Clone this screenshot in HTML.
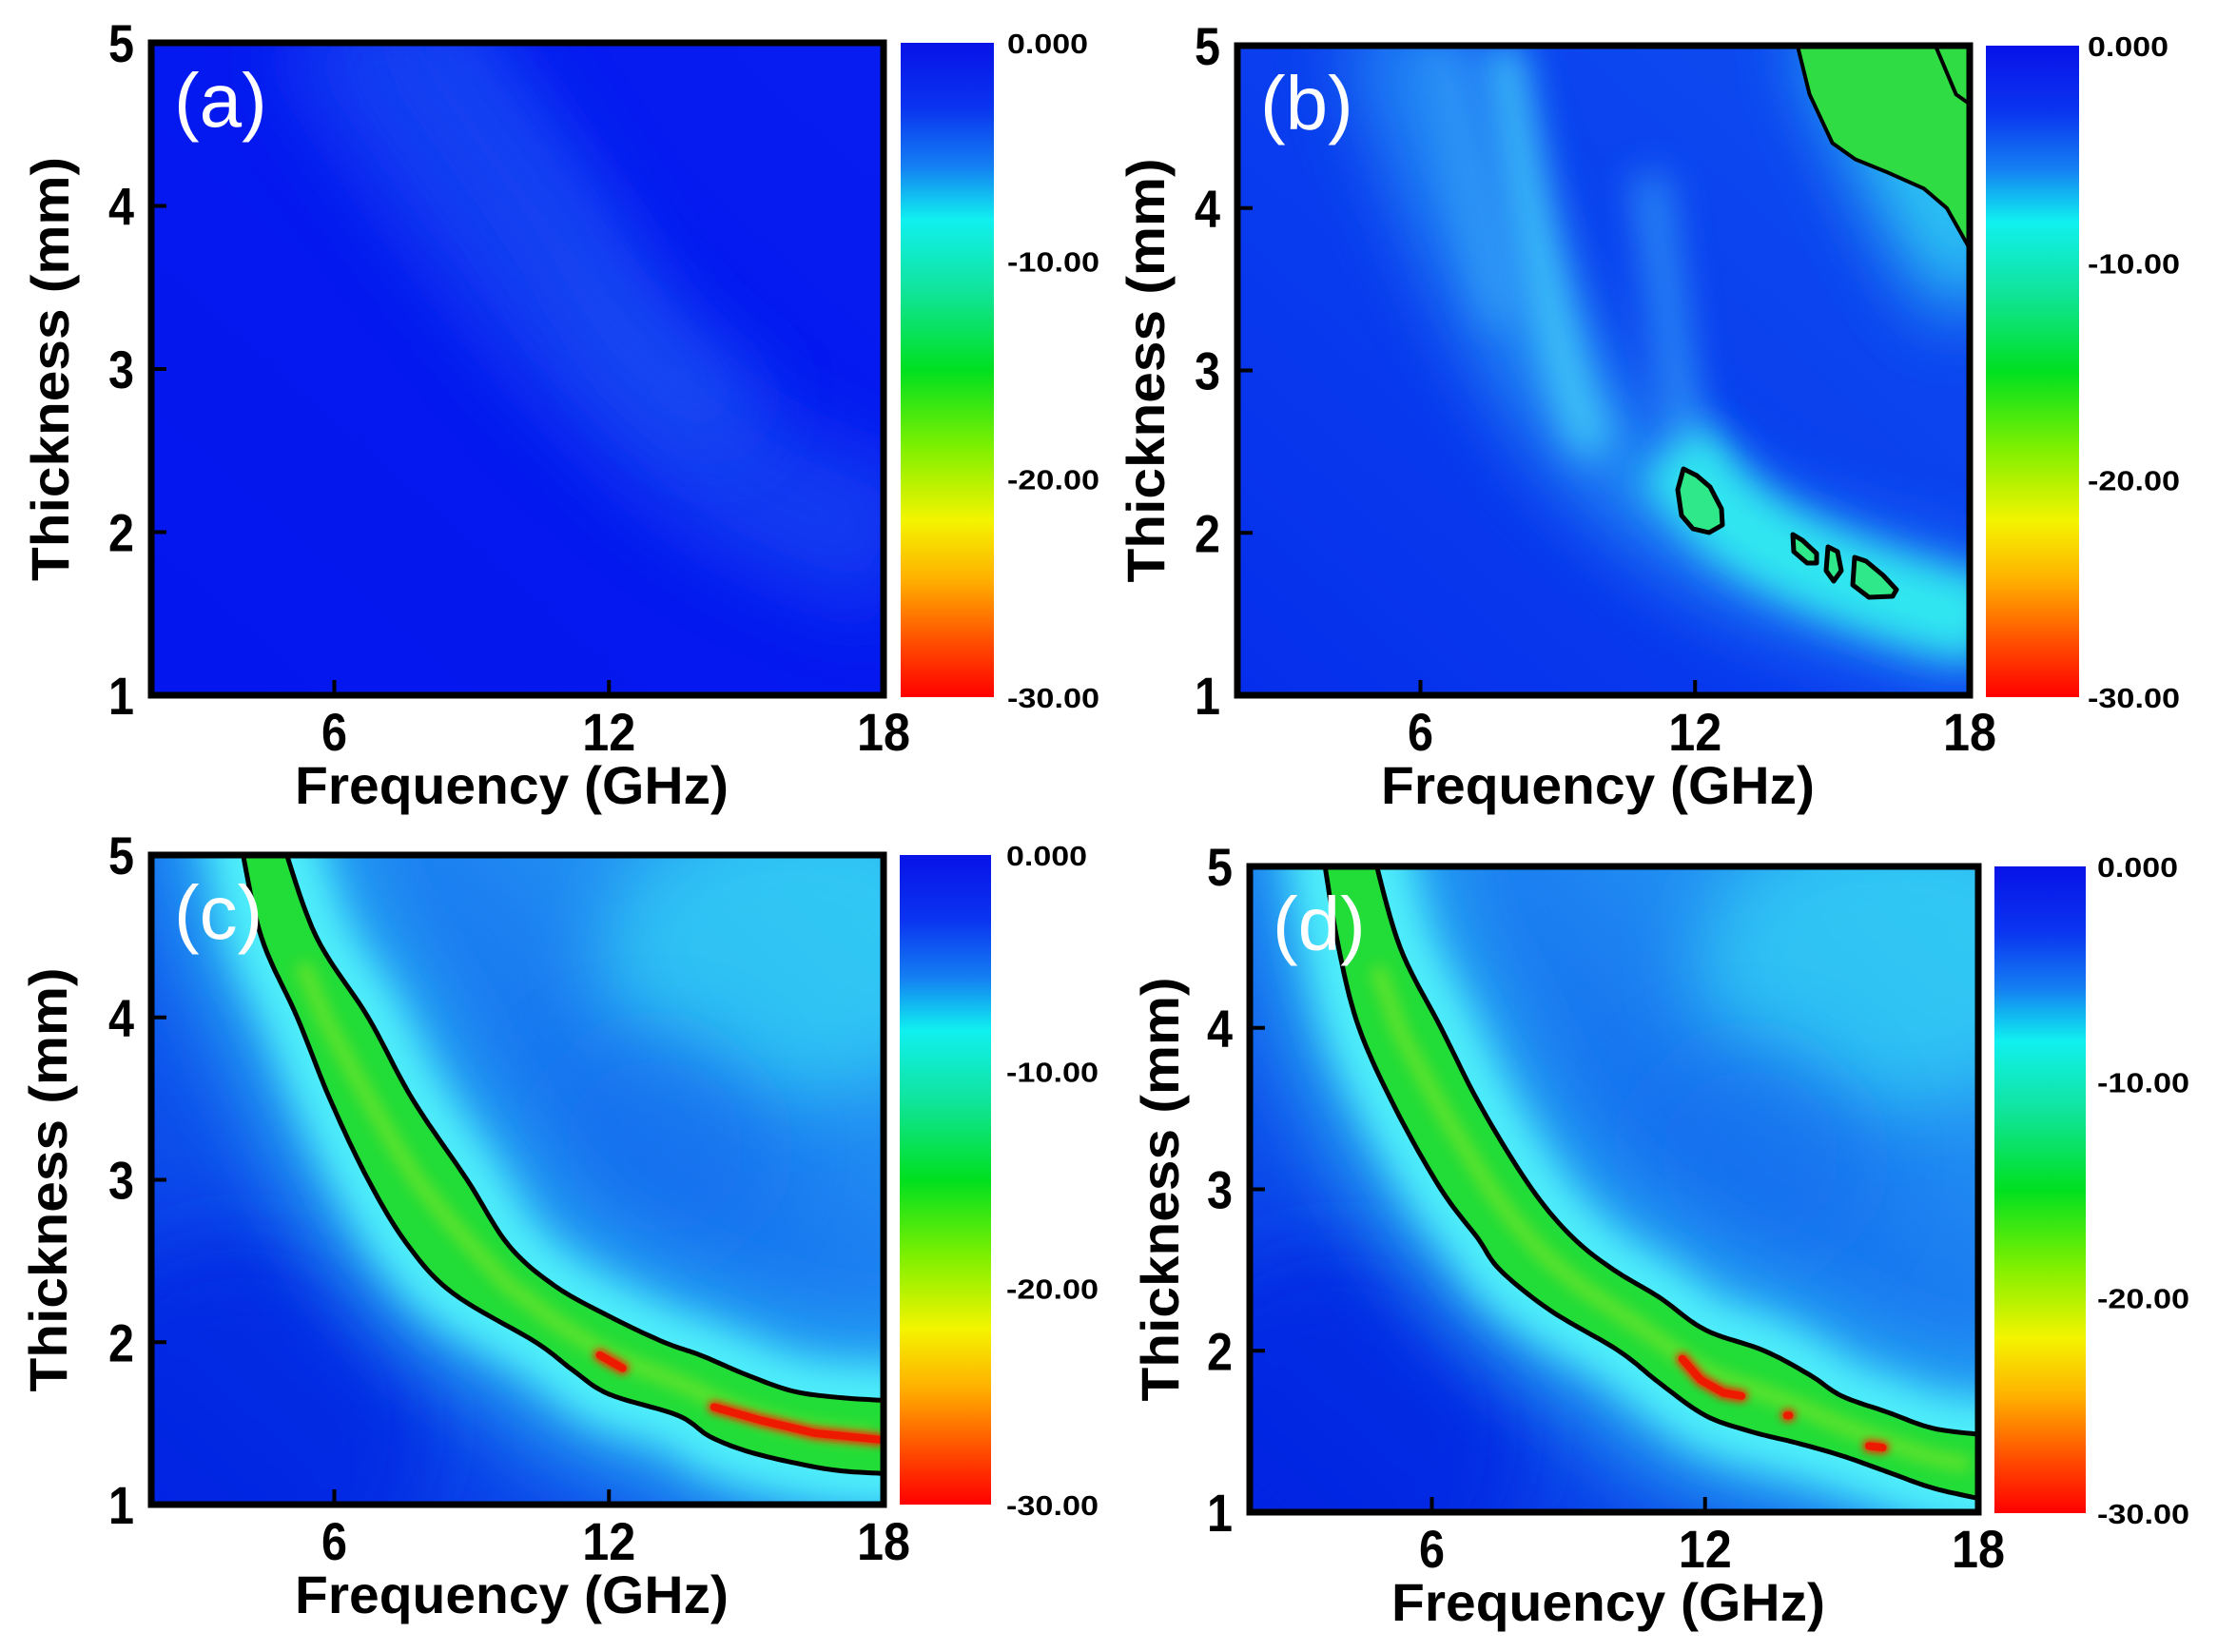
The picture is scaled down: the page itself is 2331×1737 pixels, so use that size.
<!DOCTYPE html>
<html><head><meta charset="utf-8"><style>
html,body{margin:0;padding:0;background:#fff;}
svg{display:block;}
text{font-family:"Liberation Sans",Arial,sans-serif;font-weight:bold;fill:#000;}
</style></head><body>
<svg id="s" width="2331" height="1737" viewBox="0 0 2331 1737" xmlns="http://www.w3.org/2000/svg">
<defs>
<linearGradient id="cb" x1="0" y1="0" x2="0" y2="1">
<stop offset="0" stop-color="#0812e8"/><stop offset="0.1" stop-color="#0a34f0"/>
<stop offset="0.19" stop-color="#1480f2"/><stop offset="0.27" stop-color="#10f0f0"/>
<stop offset="0.38" stop-color="#10e49a"/><stop offset="0.5" stop-color="#00e020"/>
<stop offset="0.62" stop-color="#80f000"/><stop offset="0.73" stop-color="#f4f400"/>
<stop offset="0.82" stop-color="#ffb000"/><stop offset="0.92" stop-color="#ff4a00"/>
<stop offset="1" stop-color="#ff0000"/></linearGradient>
<linearGradient id="bgcd" x1="0" y1="1" x2="1" y2="0">
<stop offset="0" stop-color="#0328e4"/><stop offset="0.45" stop-color="#1262ee"/>
<stop offset="1" stop-color="#2aa8f4"/></linearGradient>
<linearGradient id="bga" x1="0" y1="1" x2="1" y2="0">
<stop offset="0" stop-color="#0316ee"/><stop offset="1" stop-color="#061cf0"/></linearGradient>
<filter id="b40" filterUnits="userSpaceOnUse" x="0" y="0" width="2331" height="1737"><feGaussianBlur stdDeviation="40"/></filter>
<filter id="b20" filterUnits="userSpaceOnUse" x="0" y="0" width="2331" height="1737"><feGaussianBlur stdDeviation="20"/></filter>
<filter id="b8" filterUnits="userSpaceOnUse" x="0" y="0" width="2331" height="1737"><feGaussianBlur stdDeviation="8"/></filter>
<filter id="b4" filterUnits="userSpaceOnUse" x="0" y="0" width="2331" height="1737"><feGaussianBlur stdDeviation="4"/></filter>
</defs>
</svg>
<script>
const S=document.getElementById('s');const NS='http://www.w3.org/2000/svg';
function el(t,a,p){const e=document.createElementNS(NS,t);for(const k in a)e.setAttribute(k,a[k]);(p||S).appendChild(e);return e;}
function txt(x,y,s,a,p){const e=el('text',Object.assign({x:x,y:y},a),p);e.textContent=s;return e;}
const P=[
 {k:'a',x:159,y:45,w:770,h:686,cb:[947,45,98,688],lx:1059,yt:52},
 {k:'b',x:1301,y:48,w:770,h:683,cb:[2088,48,98,685],lx:2195,yt:1204},
 {k:'c',x:159,y:899,w:770,h:683,cb:[946,899,96,683],lx:1058,yt:50},
 {k:'d',x:1314,y:911,w:766,h:679,cb:[2097,911,96,680],lx:2205,yt:1219}];
function path(pts,p,close){let d='';pts.forEach((q,i)=>{d+=(i?'L':'M')+q[0].toFixed(1)+','+q[1].toFixed(1)});return d+(close?'Z':'');}
function smooth(pts){
 const out=[];for(let i=0;i<pts.length-1;i++){const p0=pts[Math.max(0,i-1)],p1=pts[i],p2=pts[i+1],p3=pts[Math.min(pts.length-1,i+2)];
 for(let t=0;t<1;t+=0.1){const t2=t*t,t3=t2*t;out.push([0,1].map(j=>0.5*((2*p1[j])+(-p0[j]+p2[j])*t+(2*p0[j]-5*p1[j]+4*p2[j]-p3[j])*t2+(-p0[j]+3*p1[j]-3*p2[j]+p3[j])*t3)));}}
 out.push(pts[pts.length-1]);return out;}
function interp(a,f){for(let i=0;i<a.length-1;i++){if(f>=a[i][0]&&f<=a[i+1][0]){const r=(f-a[i][0])/(a[i+1][0]-a[i][0]);return a[i][1]+r*(a[i+1][1]-a[i][1]);}}return null;}
P.forEach(p=>{
 const X=f=>p.x+(f-2)/16*p.w, Y=t=>p.y+(5-t)/4*p.h;
 const M=a=>a.map(q=>[X(q[0]),Y(q[1])]);
 const cid='clip'+p.k;const cp=el('clipPath',{id:cid});el('rect',{x:p.x,y:p.y,width:p.w,height:p.h},cp);
 const g=el('g',{'clip-path':'url(#'+cid+')'});
 if(p.k==='a'){
  el('rect',{x:p.x,y:p.y,width:p.w,height:p.h,fill:'url(#bga)'},g);
  el('path',{d:path(M(smooth([[6,5.2],[9,4],[12,3],[15,2.3],[18.5,1.9]]))),stroke:'#1244f2',"stroke-width":150,fill:'none',filter:'url(#b40)',opacity:0.8},g);
  el('path',{d:path(M(smooth([[8,5.2],[11,4],[13,3.1],[15,2.7]]))),stroke:'#1a54f4',"stroke-width":80,fill:'none',filter:'url(#b40)',opacity:0.7},g);
 } else if(p.k==='b'){
  el('rect',{x:p.x,y:p.y,width:p.w,height:p.h,fill:'#0630ee'},g);
  el('rect',{x:p.x,y:p.y,width:p.w,height:p.h,fill:'url(#bgcd)',opacity:0.25},g);
  const L=(a,c,w,o,f)=>el('path',{d:path(M(smooth(a))),stroke:c,"stroke-width":w,fill:'none',filter:'url(#'+(f||'b20')+')',opacity:o},g);
  L([[5.5,5.2],[7,4],[8.8,3],[10.5,2.4],[13,1.9],[16,1.6],[18.5,1.4]],'#2aa0f6',120,0.75,'b40');
  L([[7.8,5],[8.4,4],[9.2,3],[9.8,2.5]],'#4ce0fa',40,0.8);
  L([[6.5,5],[7.2,4],[7.8,3.3]],'#3aa8f8',35,0.7);
  L([[11,4.2],[11.6,3],[12,2.3]],'#3ab0f8',35,0.7);
  L([[11.5,2.5],[13,2.05],[15,1.75],[17,1.55],[18.5,1.45]],'#30ecf0',90,0.95);
  L([[15.5,5.2],[17,4.2],[18.5,3.5]],'#30d8f4',120,0.9,'b40');
  el('path',{d:path(M([[14.15,5.1],[14.5,4.7],[15,4.4],[15.5,4.3],[16.2,4.22],[17,4.12],[17.5,4.0],[18.1,3.7],[18.1,5.1]]),0,1),fill:'#30dc44',stroke:'#000','stroke-width':4},g);
  el('path',{d:path(M([[17.1,5.1],[17.7,4.7],[18.2,4.6]])),fill:'none',stroke:'#000','stroke-width':4},g);
 } else {
  el('rect',{x:p.x,y:p.y,width:p.w,height:p.h,fill:'url(#bgcd)'},g);
  el('ellipse',{cx:X(16),cy:Y(4.4),rx:200,ry:150,fill:'#34d8f4',filter:'url(#b40)',opacity:0.7},g);
  el('ellipse',{cx:X(13),cy:Y(3.2),rx:120,ry:120,fill:'#1670ee',filter:'url(#b40)',opacity:0.6},g);
  el('ellipse',{cx:X(4),cy:Y(1.5),rx:200,ry:200,fill:'#0424e2',filter:'url(#b40)',opacity:0.7},g);
  let up,lo,red;
  if(p.k==='c'){
   up=[[4.85,5.1],[5.6,4.5],[6.74,4],[7.7,3.5],[8.9,3],[9.8,2.6],[10.8,2.35],[12,2.16],[13.2,2.0],[14,1.92],[15,1.8],[16,1.7],[17,1.66],[18.1,1.64]];
   lo=[[3.94,5.1],[4.4,4.5],[5.19,4],[5.9,3.5],[6.74,3],[7.6,2.6],[8.6,2.3],[10.4,2.0],[11.2,1.83],[12,1.68],[13.5,1.55],[14.2,1.42],[15,1.33],[16,1.26],[17,1.21],[18.1,1.19]];
   red=[[[14.3,1.6],[15.3,1.52],[16.5,1.44],[17.9,1.4]],[[11.8,1.92],[12.3,1.84]]];
  } else {
   up=[[4.7,5.1],[5.3,4.5],[6.2,4],[7.1,3.5],[8.2,3],[9.1,2.7],[10,2.5],[11,2.33],[12,2.13],[13.3,2.0],[14.3,1.85],[15,1.72],[16,1.62],[17,1.52],[18.1,1.48]];
   lo=[[3.6,5.1],[3.95,4.5],[4.4,4],[5.2,3.5],[6.2,3],[7,2.7],[7.5,2.5],[8.6,2.25],[10.1,2.0],[11,1.8],[12,1.6],[13,1.5],[14,1.43],[15,1.35],[16,1.25],[17,1.15],[18.1,1.08]];
   red=[[[11.5,1.95],[11.9,1.82],[12.4,1.74],[12.8,1.72]],[[13.8,1.6],[13.85,1.6]],[[15.6,1.41],[15.9,1.4]]];
  }
  const U=M(smooth(up)),Lw=M(smooth(lo));
  const band=path(U.concat(Lw.slice().reverse()),0,1);
  el('path',{d:band,fill:'none',stroke:'#2cb8f4','stroke-width':160,filter:'url(#b40)',opacity:0.75},g);
  el('path',{d:band,fill:'none',stroke:'#50f0fa','stroke-width':70,filter:'url(#b20)',opacity:1},g);
  el('path',{d:band,fill:'#22dc38'},g);
  const cen=[];for(let f=4.3;f<=18.2;f+=0.5){const tu=interp(up,f),tl=interp(lo,f);if(tu!=null&&tl!=null)cen.push([f,(tu+tl)/2]);}
  el('path',{d:path(M(cen)),fill:'none',stroke:'#8ee820','stroke-width':16,filter:'url(#b8)',opacity:0.6},g);
  red.forEach(r=>{el('path',{d:path(M(r)),fill:'none',stroke:'#ff2000','stroke-width':13,'stroke-linecap':'round',filter:'url(#b4)'},g);
   el('path',{d:path(M(r)),fill:'none',stroke:'#ee1a00','stroke-width':8,'stroke-linecap':'round'},g);});
  el('path',{d:path(U),fill:'none',stroke:'#000','stroke-width':5},g);
  el('path',{d:path(Lw),fill:'none',stroke:'#000','stroke-width':5},g);
 }
 el('rect',{x:p.x,y:p.y,width:p.w,height:p.h,fill:'none',stroke:'#000','stroke-width':7});
 [6,12].forEach(f=>el('line',{x1:X(f),x2:X(f),y1:p.y+p.h,y2:p.y+p.h-16,stroke:'#000','stroke-width':4}));
 [2,3,4].forEach(t=>el('line',{x1:p.x,x2:p.x+16,y1:Y(t),y2:Y(t),stroke:'#000','stroke-width':4}));
 [6,12,18].forEach(f=>txt(X(f),p.y+p.h+58,String(f),{'font-size':56,'text-anchor':'middle',textLength:f<10?27:56,lengthAdjust:'spacingAndGlyphs'}));
 [1,2,3,4,5].forEach(t=>txt(p.x-18,Y(t)+20,String(t),{'font-size':56,'text-anchor':'end',textLength:27,lengthAdjust:'spacingAndGlyphs'}));
 txt(p.x+p.w/2-6,p.y+p.h+114,'Frequency (GHz)',{'font-size':56,'text-anchor':'middle',textLength:456,lengthAdjust:'spacingAndGlyphs'});
 txt(0,0,'Thickness (mm)',{'font-size':56,'text-anchor':'middle',textLength:446,lengthAdjust:'spacingAndGlyphs',transform:'translate('+(p.yt+20)+','+(p.y+p.h/2)+') rotate(-90)'});
 txt(p.x+24,p.y+88,'('+p.k+')',{'font-size':80,style:'fill:#fff;font-weight:normal'});
 const c=p.cb;el('rect',{x:c[0],y:c[1],width:c[2],height:c[3],fill:'url(#cb)'});
 ['0.000','-10.00','-20.00','-30.00'].forEach((s,i)=>txt(p.lx,c[1]+c[3]*i/3+11,s,{'font-size':29,textLength:i?97:85,lengthAdjust:'spacingAndGlyphs'}));
});
const blobs=[
 [[1770,493],[1784,500],[1798,512],[1810,535],[1811,552],[1797,560],[1780,556],[1768,542],[1764,515]],
 [[1885,562],[1895,568],[1910,582],[1910,592],[1900,592],[1886,580]],
 [[1922,575],[1932,580],[1936,600],[1928,611],[1920,600]],
 [[1950,586],[1962,590],[1980,605],[1994,620],[1990,627],[1965,628],[1948,615]]];
blobs.forEach(b=>el('path',{d:path(b,0,1),fill:'#2ee88a',stroke:'#000','stroke-width':5,'stroke-linejoin':'round'}));
</script>
</body></html>
